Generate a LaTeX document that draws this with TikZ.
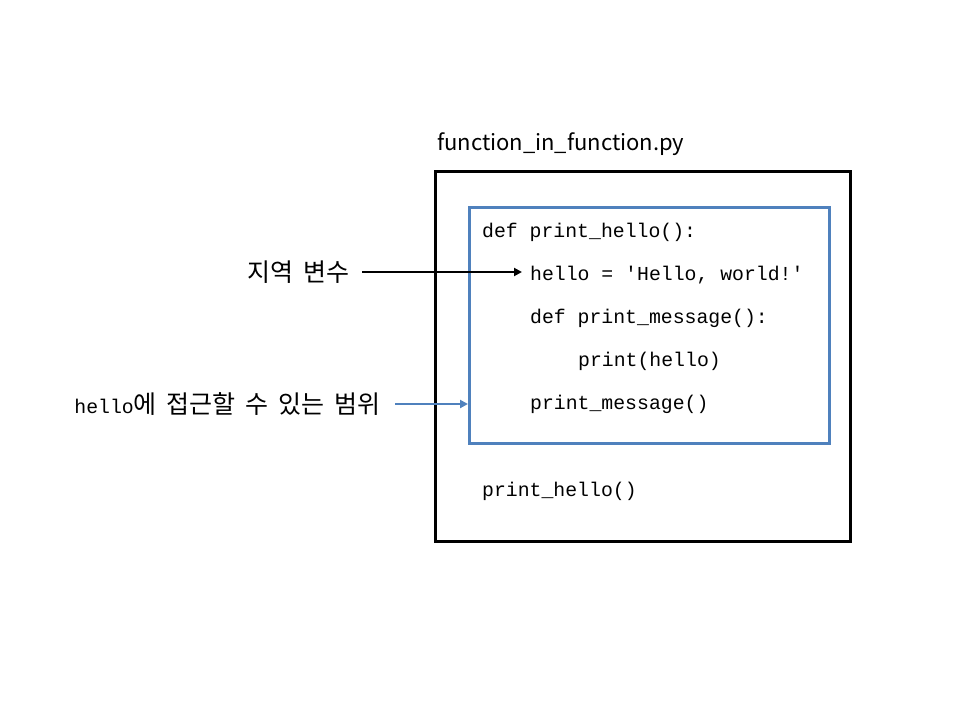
\documentclass[tikz,border=0pt]{standalone}
\usepackage{fontspec}
\setmainfont{Noto Sans CJK KR}
\setmonofont{Liberation Mono}
\usetikzlibrary{arrows.meta}
\definecolor{officeblue}{HTML}{4F81BD}
\newcommand\mywidespace{\spaceskip=10pt\relax}
\tikzset{
  code/.style={anchor=west, inner sep=0pt, font=\fontsize{19.8}{22}\ttfamily},
  lbl/.style={anchor=east, inner sep=0pt, font={\fontsize{25}{28}\selectfont\mywidespace}},
  outerbox/.style={draw=black, line width=3pt},
  blackarrow/.style={draw=black, line width=2.6pt, -{Triangle[length=8pt,width=8pt]}},
  bluearrow/.style={draw=officeblue, line width=2.6pt, -{Triangle[length=8pt,width=8pt]}}
}
\begin{document}
\begin{tikzpicture}[x=1pt,y=-1pt]
\useasboundingbox (0,0) rectangle (960,720);
\fill[white] (0,0) rectangle (960,720);
\node[anchor=west, inner sep=0pt, font=\fontsize{22}{26}\selectfont] (title) at (437,144) {function\_in\_function.py};
\draw[outerbox] (435,171) rectangle (850,541);
\node[draw=officeblue, line width=2.5pt, minimum width=360pt, minimum height=236pt, inner sep=0pt, anchor=north west] (scope) at (468,206) {};
\node[code] (l1) at (482,232) {def print\_hello():};
\node[code] (l2) at (530,275) {hello = 'Hello, world!'};
\node[code] (l3) at (530,318) {def print\_message():};
\node[code] (l4) at (578,361) {print(hello)};
\node[code] (l5) at (530,404) {print\_message()};
\node[code] (l6) at (482,491) {print\_hello()};
\node[lbl] (local) at (350,272) {지역 변수};
\node[lbl] (range) at (381,404) {{\fontsize{19.8}{22}\ttfamily hello}에 접근할 수 있는 범위};
\draw[blackarrow] (local.east) ++(12pt,0) -- ([xshift=-8pt]l2.west |- local.east);
\draw[bluearrow] (range.east) ++(14pt,0) -- (scope.west |- range.east);
\end{tikzpicture}
\end{document}
